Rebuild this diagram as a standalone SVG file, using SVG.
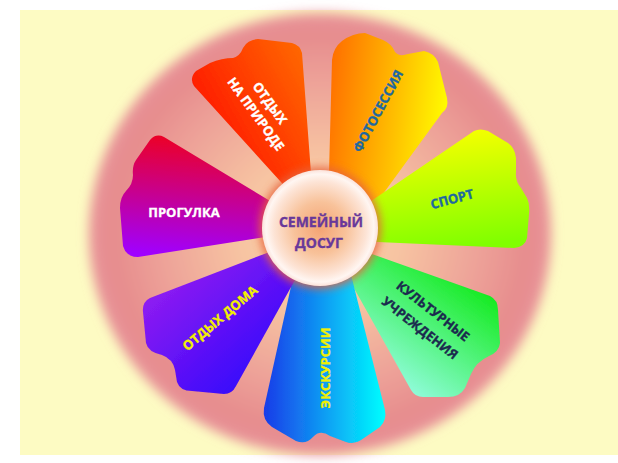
<svg xmlns="http://www.w3.org/2000/svg" width="618" height="463" viewBox="0 0 618 463">
<defs>
<style>
.t{font-family:"Open Sans","Noto Sans","DejaVu Sans",sans-serif;font-weight:700;font-size:13px;text-anchor:middle;stroke-width:0.35px;}
.w{fill:#ffffff;stroke:#ffffff;}
.b{fill:#1d68a0;stroke:#1d68a0;}
.n{fill:#1b2a4e;stroke:#1b2a4e;}
.y{fill:#f2f000;stroke:#f2f000;}
.p{fill:#68389a;stroke:#68389a;font-size:14px;}
.petal{filter:url(#soft);}
</style>
<filter id="soft" x="-10%" y="-10%" width="120%" height="120%"><feGaussianBlur stdDeviation="0.7"/></filter>
<filter id="blurBig" x="-10%" y="-10%" width="120%" height="120%"><feGaussianBlur stdDeviation="6"/></filter>
<filter id="blurHalo" x="-30%" y="-30%" width="160%" height="160%"><feGaussianBlur stdDeviation="4"/></filter>
<radialGradient id="disk" cx="0.5" cy="0.5" r="0.5">
<stop offset="0" stop-color="#fbd2a8"/>
<stop offset="0.35" stop-color="#f7c4a2"/>
<stop offset="0.7" stop-color="#eda198"/>
<stop offset="0.9" stop-color="#e68c8d"/>
<stop offset="1" stop-color="#e8939a"/>
</radialGradient>
<radialGradient id="hub" cx="0.5" cy="0.5" r="0.5">
<stop offset="0" stop-color="#f4a373"/>
<stop offset="0.45" stop-color="#f8c29a"/>
<stop offset="0.8" stop-color="#fde4d6"/>
<stop offset="0.93" stop-color="#fff6f2"/>
<stop offset="1" stop-color="#fbe2da"/>
</radialGradient>
<linearGradient id="g1" x1="0.1" y1="0.6" x2="0.9" y2="0"><stop offset="0" stop-color="#ff1400"/><stop offset="1" stop-color="#ff6a00"/></linearGradient>
<linearGradient id="g2" x1="0" y1="0.3" x2="1" y2="0.5"><stop offset="0" stop-color="#ff7000"/><stop offset="0.6" stop-color="#ffc400"/><stop offset="1" stop-color="#ffff00"/></linearGradient>
<linearGradient id="g3" x1="0.4" y1="0" x2="0.6" y2="1"><stop offset="0" stop-color="#fbff00"/><stop offset="1" stop-color="#80ff00"/></linearGradient>
<linearGradient id="g4" x1="0.9" y1="0.1" x2="0.2" y2="1"><stop offset="0" stop-color="#00e800"/><stop offset="1" stop-color="#a8ffff"/></linearGradient>
<linearGradient id="g5" x1="0" y1="0.5" x2="1" y2="0.5"><stop offset="0" stop-color="#1a3be8"/><stop offset="1" stop-color="#00ffff"/></linearGradient>
<linearGradient id="g6" x1="0" y1="0" x2="1" y2="1"><stop offset="0" stop-color="#aa22ee"/><stop offset="1" stop-color="#1800ff"/></linearGradient>
<linearGradient id="g7" x1="0.5" y1="0" x2="0.4" y2="1"><stop offset="0" stop-color="#ee0020"/><stop offset="1" stop-color="#a000ff"/></linearGradient>
</defs>

<rect x="0" y="0" width="618" height="463" fill="#ffffff"/>
<rect x="20" y="10" width="598" height="445" fill="#fdfbc3"/>
<ellipse cx="320" cy="234" rx="231" ry="221" fill="url(#disk)" filter="url(#blurBig)"/>

<g id="connectors"></g>

<g id="node-otdykh-priroda">
<path class="petal" fill="url(#g1)" d="M300,203 L194,86 Q189,78 196,71 L210,63 Q222,58 233,58 Q240,56 243,48 Q247,40 258,39 L292,43 Q300,45 302,53 L313,200 Z"/>
<text class="t w" transform="translate(270,103) rotate(54)" dy="0.36em">ОТДЫХ</text>
<text class="t w" transform="translate(256,114) rotate(54)" dy="0.36em">НА ПРИРОДЕ</text>
</g>

<g id="node-fotosessiya">
<path class="petal" fill="url(#g2)" d="M328,210 L332,60 Q333,48 342,41 Q353,33 365,33 L383,40 Q392,44 395,52 Q399,57 408,54 L424,51 Q434,53 438,62 L447,98 Q449,108 442,113 L364,220 Z"/>
<text class="t b" transform="translate(378,111) rotate(-62)" dy="0.36em">ФОТОСЕССИЯ</text>
</g>

<g id="node-sport">
<path class="petal" fill="url(#g3)" d="M355,212 L474,131 Q480,128 488,131 L508,143 Q515,148 516,158 L516,172 Q515,181 521,188 L527,198 Q530,204 529,214 L527,238 Q525,247 514,248 L355,241 Z"/>
<text class="t b" transform="translate(452,199) rotate(-15)" dy="0.36em">СПОРТ</text>
</g>

<g id="node-kultura">
<path class="petal" fill="url(#g4)" d="M355,248 L490,296 Q498,300 498,310 L500,343 Q499,352 489,356 Q476,362 471,374 L465,388 Q460,397 448,397 L423,397 Q415,397 411,390 L341,265 Z"/>
<text class="t n" transform="translate(433,311) rotate(38)" dy="0.36em">КУЛЬТУРНЫЕ</text>
<text class="t n" transform="translate(420,328) rotate(38)" dy="0.36em">УЧРЕЖДЕНИЯ</text>
</g>

<g id="node-ekskursii">
<path class="petal" fill="url(#g5)" d="M298,255 L264,408 Q262,420 272,427 L296,441 Q306,445 313,437 Q320,429 330,436 L346,442 Q355,445 364,438 L380,427 Q387,420 385,410 L346,255 Z"/>
<text class="t y" transform="translate(325,368) rotate(-90)" dy="0.36em">ЭКСКУРСИИ</text>
</g>

<g id="node-otdykh-doma">
<path class="petal" fill="url(#g6)" d="M285,246 L150,298 Q142,302 143,312 L146,343 Q148,352 162,355 Q173,359 175,370 L177,382 Q180,391 192,391 L224,394 Q232,394 236,386 L305,262 Z"/>
<text class="t y" transform="translate(220,318) rotate(-40)" dy="0.36em">ОТДЫХ ДОМА</text>
</g>

<g id="node-progulka">
<path class="petal" fill="url(#g7)" d="M285,210 L164,137 Q156,133 150,140 L136,160 Q132,166 133,175 Q133,184 126,191 Q120,197 120,208 L123,246 Q126,257 138,257 L285,234 Z"/>
<text class="t w" x="184" y="212" dy="0.36em">ПРОГУЛКА</text>
</g>

<g id="node-center">
<circle cx="320" cy="228" r="61" fill="#e8643c" filter="url(#blurHalo)" opacity="0.85"/>
<circle cx="320" cy="228" r="58" fill="url(#hub)"/>
<text class="t p" x="321" y="222" dy="0.36em">СЕМЕЙНЫЙ</text>
<text class="t p" x="319" y="243" dy="0.36em">ДОСУГ</text>
</g>
</svg>
